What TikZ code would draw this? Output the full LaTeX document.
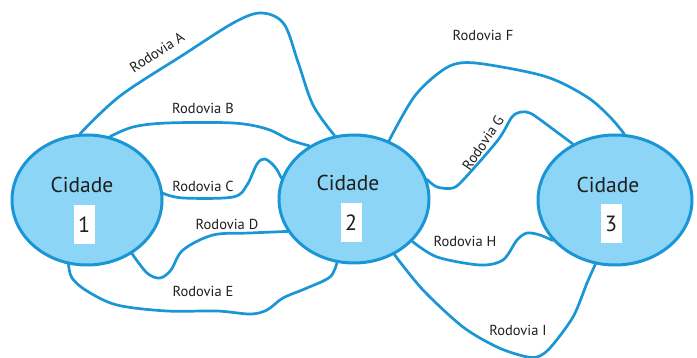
\documentclass[tikz,border=0pt]{standalone}
\usepackage{fontspec}
\setmainfont{PT Sans}
\usetikzlibrary{shapes.geometric}
\definecolor{roadblue}{HTML}{1A96D4}
\definecolor{cityfill}{HTML}{8DD5F7}
\definecolor{txt}{HTML}{1E1E1E}
\pgfdeclarelayer{roads}
\pgfsetlayers{roads,main}
\begin{document}
\begin{tikzpicture}[x=1pt,y=-1pt,
  city/.style={ellipse, draw=roadblue, fill=cityfill, line width=3pt, inner sep=0pt},
  road/.style={draw=roadblue, line width=2.7pt, line join=round, line cap=round},
  cityname/.style={font=\fontsize{21.5}{23}\selectfont, text=txt, inner sep=0pt},
  numbox/.style={fill=white, minimum width=21pt, minimum height=39pt, inner sep=0pt, font=\fontsize{22}{24}\selectfont, text=txt},
  rlabel/.style={font=\fontsize{14.5}{16}\selectfont, text=txt, inner sep=0pt}]
\useasboundingbox (0,0) rectangle (697,358);
% cities
\node[city, minimum width=150pt, minimum height=130pt] (c1) at (87,200) {};
\node[city, minimum width=150pt, minimum height=128pt] (c2) at (354,199) {};
\node[city, minimum width=154pt, minimum height=130pt] (c3) at (615,200) {};
% city texts
\node[cityname] (t1) at (82,185) {Cidade};
\node[numbox] (n1) at (84,225) {1};
\node[cityname] (t2) at (348,183) {Cidade};
\node[numbox] (n2) at (351,223) {2};
\node[cityname] (t3) at (608,185) {Cidade};
\node[numbox] (n3) at (611,224) {3};
% roads, behind the cities
\begin{pgfonlayer}{roads}
% Rodovia A
\draw[road] plot[smooth, tension=0.55] coordinates {(c1.96) (120,96) (183,55) (235,22) (262,13) (284,24) (298,62) (313,105) (c2.107)};
% Rodovia B
\draw[road] plot[smooth, tension=0.55] coordinates {(c1.70) (133,127) (167,123) (233,123) (267,129) (290,140) (c2.130)};
% Rodovia C
\draw[road] plot[smooth, tension=0.55] coordinates {(c1.5) (183,198) (233,197) (247,185) (257,164) (265,159) (275,167) (c2.164)};
% Rodovia D
\draw[road] plot[smooth, tension=0.55] coordinates {(c2.206) (250,233) (213,235) (183,250) (171,270) (160,278) (147,273) (c1.-50)};
% Rodovia E
\draw[road] plot[smooth, tension=0.55] coordinates {(c1.-106) (72,278) (87,291) (117,305) (167,311) (217,311) (250,314) (267,310) (283,298) (307,288) (330,277) (c2.-105)};
% Rodovia F
\draw[road] plot[smooth, tension=0.55] coordinates {(c2.59) (414,97) (440,72) (460,63) (490,65) (547,77) (587,97) (610,117) (c3.82)};
% Rodovia G
\draw[road] plot[smooth, tension=0.5] coordinates {(c2.15) (437,187) (453,188) (465,178) (498,140) (512,117) (521,112) (530,113) (542,121) (c3.127)};
% Rodovia H
\draw[road] plot[smooth, tension=0.5] coordinates {(c2.-36) (437,257) (480,265) (503,260) (517,240) (527,233) (540,235) (c3.213)};
% Rodovia I
\draw[road] plot[smooth, tension=0.5] coordinates {(c2.-54) (423,290) (463,327) (497,347) (523,356) (537,357) (550,348) (573,317) (587,283) (c3.253)};
\end{pgfonlayer}
% road labels
\node[rlabel, rotate=33] (lA) at (157,52) {Rodovia A};
\node[rlabel] (lB) at (203,108) {Rodovia B};
\node[rlabel] (lC) at (203,186) {Rodovia C};
\node[rlabel] (lD) at (227,224) {Rodovia D};
\node[rlabel] (lE) at (203,291) {Rodovia E};
\node[rlabel] (lF) at (483,35) {Rodovia F};
\node[rlabel, rotate=56] (lG) at (483,143) {Rodovia G};
\node[rlabel] (lH) at (465,241) {Rodovia H};
\node[rlabel] (lI) at (518,330) {Rodovia I};
\end{tikzpicture}
\end{document}
